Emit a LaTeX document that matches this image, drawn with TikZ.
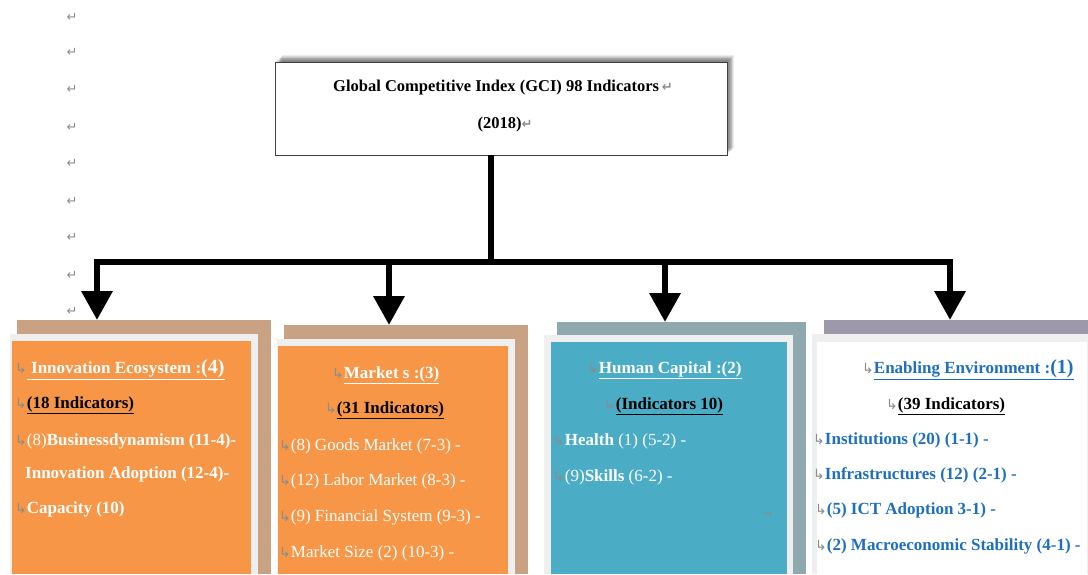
\documentclass[tikz,border=0pt]{standalone}
\usepackage{fontspec}
\setmainfont{Liberation Serif}
\newfontfamily\symfont{DejaVu Sans}
\usetikzlibrary{arrows.meta}
\definecolor{orangeP}{HTML}{F79646}
\definecolor{tanB}{HTML}{C9A283}
\definecolor{frameG}{HTML}{EFEFEF}
\definecolor{tealP}{HTML}{4BACC6}
\definecolor{tealB}{HTML}{8FA9AF}
\definecolor{purpB}{HTML}{9E98AB}
\definecolor{blueT}{HTML}{1F6FC0}
\definecolor{markG}{HTML}{8C8C8C}
\newcommand{\brk}{{\symfont\color{markG}\fontsize{14}{14}\selectfont ↳}}
\newcommand{\pmark}{{\symfont\color{markG}\fontsize{13}{13}\selectfont ↵}}
\tikzset{
  conn/.style={line width=6.5pt, black},
  drop/.style={conn, -{Triangle[width=30pt,length=29pt]}},
  topbox/.style={draw=black!75, line width=0.8pt, fill=white, inner sep=0pt,
    minimum width=452pt, minimum height=93pt},
  panel/.style={rectangle, draw=none, inner sep=0pt, outer sep=0pt, anchor=north west},
  ptxt/.style={inner sep=0pt, anchor=west, font=\fontsize{17}{17}\selectfont},
  ttl/.style={inner sep=0pt, font=\bfseries\fontsize{16.5}{16.5}\selectfont},
  pm/.style={inner sep=0pt},
}
\begin{document}
\begin{tikzpicture}[x=1pt,y=-1pt]
\useasboundingbox (0,0) rectangle (1088,574);
\fill[white] (0,0) rectangle (1088,574);

% paragraph marks in the margin
\foreach \yy [count=\i] in {17,52,89,127,163,201,237,275,311}
  \node[pm] (m\i) at (72,\yy) {\pmark};

% top box with soft shadow (top and right)
\foreach \k in {1,...,8}
  \fill[black, opacity=0.08] (275+\k*0.9,62-\k*0.9) rectangle (727+\k*0.9,155-\k*0.9);
\node[topbox] (top) at (501,108.5) {};
\node[ttl] (tl1) at (503,88) {Global Competitive Index (GCI) 98 Indicators\,\pmark};
\node[ttl] (tl2) at (505,125) {(2018)\pmark};

% panels: back, frame, face
\node[panel, fill=tanB, minimum width=254pt, minimum height=254pt] (b1) at (17,320) {};
\node[panel, fill=frameG, minimum width=248pt, minimum height=240pt] (f1) at (10,334) {};
\node[panel, fill=orangeP, minimum width=239pt, minimum height=233pt] (p1) at (12,341) {};

\node[panel, fill=tanB, minimum width=244pt, minimum height=249pt] (b2) at (284,325) {};
\node[panel, fill=frameG, minimum width=238pt, minimum height=235pt] (f2) at (277,339) {};
\node[panel, fill=orangeP, minimum width=230pt, minimum height=228pt] (p2) at (278,346) {};

\node[panel, fill=tealB, minimum width=249pt, minimum height=252pt] (b3) at (557,322) {};
\node[panel, fill=frameG, minimum width=249pt, minimum height=239pt] (f3) at (544,335) {};
\node[panel, fill=tealP, minimum width=236pt, minimum height=232pt] (p3) at (551,342) {};

\node[panel, fill=purpB, minimum width=264pt, minimum height=254pt] (b4) at (824,320) {};
\node[panel, fill=frameG, minimum width=276pt, minimum height=240pt] (f4) at (812,334) {};
\node[panel, fill=white, minimum width=270pt, minimum height=232pt] (p4) at (817,342) {};

% connectors
\coordinate (j) at (491,262);
\coordinate (c1) at (97,262);
\coordinate (c2) at (389,262);
\coordinate (c3) at (665,262);
\coordinate (c4) at (950,262);
\draw[conn] (top.south -| j) -- (j);
\draw[conn, line cap=rect] (c1) -- (c4);
\draw[drop] (c1) -- (c1 |- b1.north);
\draw[drop] (c2) -- (c2 |- b2.north);
\draw[drop] (c3) -- (c3 |- b3.north);
\draw[drop] (c4) -- (c4 |- b4.north);

% panel 1 text
\node[ptxt, text=white] (a1) at (15,370) {\brk\color{white}\underline{\bfseries\ Innovation Ecosystem :\fontsize{20}{20}\selectfont(4)}};
\node[ptxt] (a2) at (15,405) {\brk\underline{\bfseries(18 Indicators)}};
\node[ptxt, text=white] (a3) at (15,441) {\brk(8)\textbf{Businessdynamism (11-4)-}};
\node[ptxt, text=white] (a4) at (25,474) {\textbf{Innovation Adoption (12-4)-}};
\node[ptxt, text=white] (a5) at (15,509) {\brk\textbf{Capacity (10)}};

% panel 2 text
\node[ptxt, text=white] (d1) at (332,375) {\brk\color{white}\underline{\bfseries Market s :(3)}};
\node[ptxt] (d2) at (325,410) {\brk\underline{\bfseries(31 Indicators)}};
\node[ptxt, text=white] (d3) at (279,446) {\brk(8) Goods Market (7-3) -};
\node[ptxt, text=white] (d4) at (279,481) {\brk(12) Labor Market (8-3) -};
\node[ptxt, text=white] (d5) at (279,517) {\brk(9) Financial System (9-3) -};
\node[ptxt, text=white] (d6) at (279,553) {\brk Market Size (2) (10-3) -};

% panel 3 text
\node[ptxt, text=white] (h1) at (587,370) {\brk\color{white}\underline{\bfseries Human Capital :(2)}};
\node[ptxt] (h2) at (604,406) {\brk\underline{\bfseries(Indicators 10)}};
\node[ptxt, text=white] (h3) at (553,441) {\brk\textbf{Health} (1) (5-2) -};
\node[ptxt, text=white] (h4) at (553,477) {\brk(9)\textbf{Skills} (6-2) -};
\node[pm] (h5) at (768,514) {{\symfont\color{markG}\fontsize{12}{12}\selectfont →}};

% panel 4 text
\node[ptxt, text=blueT] (e1) at (862,370) {\brk\color{blueT}\underline{\bfseries Enabling Environment :\fontsize{20}{20}\selectfont(1)}};
\node[ptxt] (e2) at (886,406) {\brk\underline{\bfseries(39 Indicators)}};
\node[ptxt, text=blueT] (e3) at (813,440) {\brk\textbf{Institutions (20) (1-1) -}};
\node[ptxt, text=blueT] (e4) at (813,475) {\brk\textbf{Infrastructures (12) (2-1) -}};
\node[ptxt, text=blueT] (e5) at (815,510) {\brk\textbf{(5) ICT Adoption 3-1) -}};
\node[ptxt, text=blueT] (e6) at (815,546) {\brk\textbf{(2) Macroeconomic Stability (4-1) -}};
\end{tikzpicture}
\end{document}
